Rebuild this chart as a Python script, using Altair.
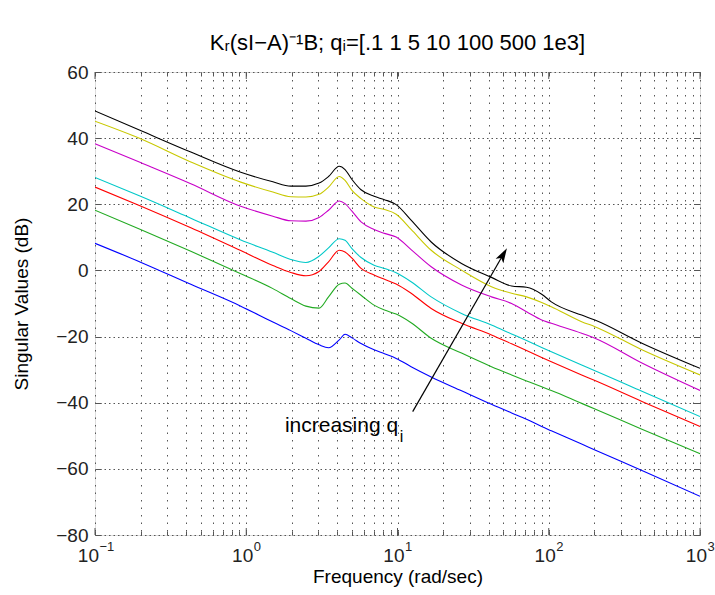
import altair as alt
import pandas as pd

# ---------------- data ----------------
freq = [0.1, 0.2, 0.43, 0.92, 1.5, 1.97, 2.48, 3.03, 3.5, 4.12, 4.5, 5.0, 5.74, 7.0,
        8.2, 9.8, 12.3, 16.7, 26.5, 41.8, 56.8, 71.3, 89.8, 104, 165, 202, 413, 1000]

series_names = ["q=0.1", "q=1", "q=5", "q=10", "q=100", "q=500", "q=1e3"]

sv_q_0_1 = [8.2, 2.5, -4.2, -10.8, -15.6, -18.2, -20.5, -22.5, -23.4, -21.0, -19.3, -20.4,
            -22.1, -24.0, -25.2, -26.6, -29.1, -32.2, -36.4, -40.5, -43.1, -45.0, -47.2,
            -48.5, -52.5, -54.3, -60.5, -68.3]
sv_q_1 = [18.2, 12.4, 5.8, -1.0, -5.5, -8.5, -10.8, -11.4, -8.0, -4.2, -3.8, -5.4,
          -7.5, -10.5, -12.0, -13.2, -15.8, -20.5, -25.0, -29.1, -31.6, -33.4, -35.2,
          -36.3, -40.2, -41.9, -48.0, -55.4]
sv_q_5 = [25.2, 19.5, 12.9, 6.0, 1.5, -0.6, -1.6, -0.3, 2.6, 6.1, 5.6, 3.7,
          0.6, -1.4, -2.7, -4.1, -6.9, -11.5, -16.0, -19.5, -22.2, -24.2, -26.3,
          -27.6, -31.6, -33.3, -39.6, -47.2]
sv_q_10 = [28.1, 22.4, 15.8, 9.2, 5.5, 3.3, 2.4, 4.3, 6.8, 9.6, 9.1, 6.6,
           3.9, 1.6, 0.6, -0.7, -3.4, -8.0, -13.0, -16.5, -19.2, -21.2, -23.3,
           -24.6, -28.6, -30.3, -36.5, -44.2]
sv_q_100 = [38.3, 32.6, 26.2, 19.4, 16.4, 15.0, 14.9, 16.0, 18.2, 21.0, 20.2, 17.9,
            14.7, 12.4, 11.2, 10.1, 6.3, 1.1, -4.4, -8.0, -10.0, -12.5, -15.0,
            -16.0, -19.0, -20.5, -28.0, -36.3]
sv_q_500 = [45.1, 39.8, 32.8, 26.7, 23.7, 22.3, 22.2, 23.0, 25.2, 28.4, 27.2, 24.2,
            21.7, 19.2, 18.4, 17.0, 12.4, 6.1, 0.1, -4.9, -6.9, -8.0, -9.7,
            -11.0, -15.5, -17.0, -24.0, -31.6]
sv_q_1e3 = [48.2, 42.3, 35.8, 29.7, 26.8, 25.5, 25.5, 26.4, 28.4, 31.5, 30.5, 27.5,
            24.4, 22.4, 21.4, 19.9, 15.2, 8.6, 2.1, -2.1, -4.7, -5.1, -7.2,
            -9.5, -13.5, -15.0, -22.0, -29.6]

line_colors = ["#0000FF", "#22AA22", "#FF0000", "#00C8C8", "#C800C8", "#C8C800", "#000000"]

decades = [0.1, 1, 10, 100, 1000]
decade_base = ["10", "10", "10", "10", "10"]
decade_exp = ["\u22121", "0", "1", "2", "3"]
y_ticks = [-80, -60, -40, -20, 0, 20, 40, 60]
x_ticks = [round(k * 10.0 ** e, 6) for e in range(-1, 3) for k in range(1, 10)] + [1000.0]

title_text = "K\u1d63(sI\u2212A)\u207b\u00b9B; q\u1d62=[.1 1 5 10 100 500 1e3]"
annot_text = ["increasing q"]
annot_sub = ["i"]
annot_x = [10.1]
annot_y = [-48.8]
arrow_x = [12.6]
arrow_y = [-42.7]
arrow_x2 = [50.0]
arrow_y2 = [4.8]

# ---------------- tables ----------------
all_series = [sv_q_0_1, sv_q_1, sv_q_5, sv_q_10, sv_q_100, sv_q_500, sv_q_1e3]
rows = []
for name, vals in zip(series_names, all_series):
    for f, v in zip(freq, vals):
        rows.append({"freq": f, "sv": v, "series": name})
df = pd.DataFrame(rows)
dec_df = pd.DataFrame({"dec": decades, "base": decade_base, "exp": decade_exp})
ann_df = pd.DataFrame({"x": annot_x, "y": annot_y, "t": annot_text, "s": annot_sub})
arr_df = pd.DataFrame({"x": arrow_x, "y": arrow_y, "x2": arrow_x2, "y2": arrow_y2})

W, H = 605, 463
FONT = "Liberation Sans"
xs = alt.Scale(type="log", domain=[0.1, 1000], nice=False)
ys = alt.Scale(domain=[-80, 60], nice=False, zero=False)
AX = "#555555"

lines = alt.Chart(df).mark_line(strokeWidth=1.1, interpolate="monotone", clip=True).encode(
    x=alt.X("freq:Q", scale=xs, axis=alt.Axis(
        orient="bottom", values=x_ticks, grid=True, gridDash=[1.5, 6], gridColor="#555555",
        gridWidth=1, ticks=True, tickSize=4, offset=-4, tickColor=AX, domain=False,
        labels=False, title="Frequency (rad/sec)", titleFont=FONT, titleFontSize=19,
        titleFontWeight="normal", titleColor="#000000", titlePadding=32)),
    y=alt.Y("sv:Q", scale=ys, axis=alt.Axis(
        orient="left", values=y_ticks, grid=True, gridDash=[1.5, 3], gridColor="#555555",
        gridWidth=1, ticks=True, tickSize=6, offset=-6, tickColor=AX, domain=False,
        labelFont=FONT, labelFontSize=19, labelColor="#222222", labelPadding=7,
        title="Singular Values (dB)", titleFont=FONT, titleFontSize=19,
        titleFontWeight="normal", titleColor="#000000", titlePadding=24)),
    color=alt.Color("series:N", scale=alt.Scale(domain=series_names, range=line_colors), legend=None),
    order="freq:Q",
)

frame = alt.Chart(df).mark_line(opacity=0).encode(
    x=alt.X("freq:Q", scale=xs, axis=alt.Axis(
        orient="top", values=x_ticks, grid=False, ticks=True, tickSize=4, offset=-4,
        tickColor=AX, domain=False, labels=False, title=None)),
    y=alt.Y("sv:Q", scale=ys, axis=alt.Axis(
        orient="right", values=y_ticks, grid=False, ticks=True, tickSize=6, offset=-6,
        tickColor=AX, domain=False, labels=False, title=None)),
    detail="series:N",
)

dec_x = alt.X("dec:Q", scale=xs, axis=None)
major_b = alt.Chart(dec_df).mark_rule(color=AX).encode(x=dec_x, y=alt.value(H), y2=alt.value(H - 7))
major_t = alt.Chart(dec_df).mark_rule(color=AX).encode(x=dec_x, y=alt.value(0), y2=alt.value(7))

lbl_base_a = alt.Chart(dec_df).transform_filter("datum.exp != '\u22121'").mark_text(
    align="right", baseline="alphabetic", dx=7, font=FONT, fontSize=19, color="#222222"
).encode(x=dec_x, y=alt.value(H + 27), text="base:N")
lbl_exp_a = alt.Chart(dec_df).transform_filter("datum.exp != '\u22121'").mark_text(
    align="left", baseline="alphabetic", dx=7.5, font=FONT, fontSize=13, color="#222222"
).encode(x=dec_x, y=alt.value(H + 16), text="exp:N")
lbl_base_b = alt.Chart(dec_df).transform_filter("datum.exp == '\u22121'").mark_text(
    align="right", baseline="alphabetic", dx=4, font=FONT, fontSize=19, color="#222222"
).encode(x=dec_x, y=alt.value(H + 27), text="base:N")
lbl_exp_b = alt.Chart(dec_df).transform_filter("datum.exp == '\u22121'").mark_text(
    align="left", baseline="alphabetic", dx=4.5, font=FONT, fontSize=13, color="#222222"
).encode(x=dec_x, y=alt.value(H + 16), text="exp:N")

ann_x = alt.X("x:Q", scale=xs, axis=None)
ann_y = alt.Y("y:Q", scale=ys, axis=None)
ann_main = alt.Chart(ann_df).mark_text(
    align="right", baseline="alphabetic", font=FONT, fontSize=21, color="#000000"
).encode(x=ann_x, y=ann_y, text="t:N")
ann_subs = alt.Chart(ann_df).mark_text(
    align="left", baseline="alphabetic", dx=1.5, dy=10, font=FONT, fontSize=16, color="#000000"
).encode(x=ann_x, y=ann_y, text="s:N")

arrow_line = alt.Chart(arr_df).mark_rule(color="#000000", strokeWidth=1.2).encode(
    x=ann_x, y=ann_y, x2="x2:Q", y2="y2:Q")
arrow_head = alt.Chart(arr_df).mark_point(
    shape="M0,-1L0.6,1L0,0.55L-0.6,1Z", filled=True, color="#000000", opacity=1,
    size=220, angle=30
).encode(x=alt.X("x2:Q", scale=xs, axis=None), y=alt.Y("y2:Q", scale=ys, axis=None))

chart = alt.layer(
    lines, frame, major_b, major_t,
    lbl_base_a, lbl_exp_a, lbl_base_b, lbl_exp_b,
    ann_main, ann_subs, arrow_line, arrow_head,
).resolve_axis(x="independent", y="independent").properties(
    width=W, height=H,
    title=alt.TitleParams(title_text, font=FONT, fontSize=22, fontWeight="normal",
                          color="#000000", anchor="middle", offset=8),
    padding={"left": 95, "top": 72, "right": 15, "bottom": 60},
    autosize=alt.AutoSizeParams(type="none"),
).configure_view(stroke=AX, strokeWidth=1.2).configure(background="white")

chart.save("out.html", embed_options={"renderer": "svg", "actions": False})
